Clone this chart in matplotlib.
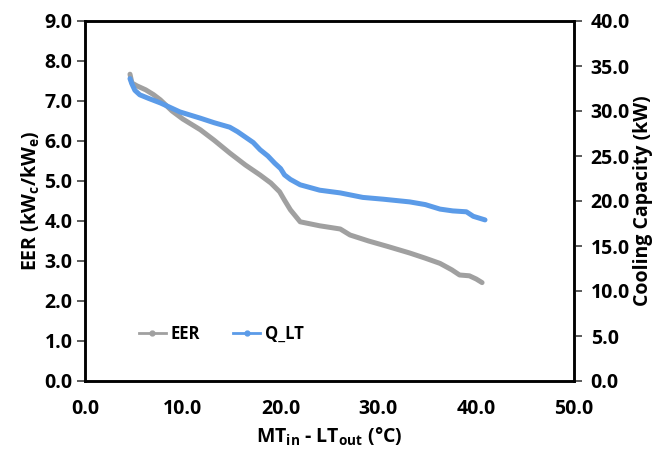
import matplotlib
matplotlib.use("Agg")
import matplotlib.pyplot as plt
from matplotlib.lines import Line2D
from matplotlib.ticker import FixedLocator, FormatStrFormatter

plt.rcParams['font.family'] = ['Open Sans', 'DejaVu Sans']
plt.rcParams['font.weight'] = 'bold'
plt.rcParams['mathtext.fontset'] = 'custom'
plt.rcParams['mathtext.rm'] = 'Open Sans:bold'
plt.rcParams['mathtext.it'] = 'Open Sans:bold'
plt.rcParams['mathtext.bf'] = 'Open Sans:bold'

# Temperature lift MT_in - LT_out (°C) and measured EER
eer_dt = [4.6, 4.8, 5.3, 6.2, 7.0, 7.7, 8.9, 10.0, 11.8, 13.2, 14.8, 16.4, 17.9, 19.0,
          19.9, 20.4, 21.0, 22.0, 24.0, 26.1, 27.1, 29.0, 31.0, 33.2, 34.8, 36.3, 37.5,
          38.3, 39.3, 40.0, 40.6]
eer = [7.67, 7.45, 7.38, 7.28, 7.16, 7.03, 6.75, 6.55, 6.28, 6.02, 5.70, 5.40, 5.15, 4.95,
       4.73, 4.52, 4.28, 3.98, 3.88, 3.80, 3.65, 3.50, 3.36, 3.20, 3.07, 2.94, 2.78,
       2.65, 2.63, 2.55, 2.46]

# Temperature lift and low-temperature cooling capacity Q_LT (kW)
q_dt = [4.6, 4.8, 5.1, 5.6, 6.5, 7.7, 9.7, 11.8, 13.2, 14.8, 15.6, 16.4, 17.2, 17.9,
        18.7, 19.4, 20.0, 20.4, 21.0, 22.0, 24.0, 26.1, 28.4, 30.5, 33.2, 34.8, 36.3,
        37.6, 39.0, 39.7, 40.9]
q_lt = [33.6, 33.0, 32.3, 31.8, 31.4, 30.9, 29.9, 29.2, 28.7, 28.2, 27.7, 27.1, 26.5, 25.7,
        25.0, 24.2, 23.6, 22.9, 22.4, 21.8, 21.2, 20.9, 20.4, 20.2, 19.9, 19.6, 19.1,
        18.9, 18.8, 18.3, 17.9]

gray = '#A0A0A0'
blue = '#5B9BE8'

fig = plt.figure(figsize=(6.69, 4.55), dpi=100)
ax = fig.add_axes([85 / 669, 1 - 381 / 455, (574 - 85) / 669, (381 - 21) / 455])
ax2 = ax.twinx()

ax.plot(eer_dt, eer, color=gray, lw=3.6, solid_capstyle='round', solid_joinstyle='round')
ax2.plot(q_dt, q_lt, color=blue, lw=3.6, solid_capstyle='round', solid_joinstyle='round')

ax.set_xlim(0, 50)
ax.set_ylim(0, 9)
ax2.set_ylim(0, 40)
ax.xaxis.set_major_locator(FixedLocator([0, 10, 20, 30, 40, 50]))
ax.yaxis.set_major_locator(FixedLocator(list(range(0, 10))))
ax2.yaxis.set_major_locator(FixedLocator(list(range(0, 45, 5))))
for a in (ax, ax2):
    a.xaxis.set_major_formatter(FormatStrFormatter('%.1f'))
    a.yaxis.set_major_formatter(FormatStrFormatter('%.1f'))

fs = 14
ax.tick_params(axis='x', length=0, pad=13, labelsize=fs, colors='black')
ax.tick_params(axis='y', direction='out', length=6, width=1.2, pad=3, labelsize=fs,
               color='#404040')
ax2.tick_params(axis='y', direction='out', length=6, width=1.2, pad=6, labelsize=fs,
                color='#404040')
for lbl in ax.get_xticklabels() + ax.get_yticklabels() + ax2.get_yticklabels():
    lbl.set_fontweight('bold')

for a in (ax, ax2):
    for s in a.spines.values():
        s.set_linewidth(1.8)
        s.set_color('black')

ax.set_xlabel(r'MT$_{\rm in}$ - LT$_{\rm out}$ (°C)', fontsize=fs, fontweight='bold',
              labelpad=5)
ax.set_ylabel(r'EER (kW$_{\rm c}$/kW$_{\rm e}$)', fontsize=fs, fontweight='bold',
              labelpad=2)
ax2.set_ylabel('Cooling Capacity (kW)', fontsize=fs, fontweight='bold', labelpad=2)

handles = [Line2D([], [], color=gray, lw=2, marker='o', ms=3.5),
           Line2D([], [], color=blue, lw=2, marker='o', ms=3.5)]
ax.legend(handles, ['EER', 'Q_LT'], loc='center left', bbox_to_anchor=(0.08, 0.13),
          ncol=2, frameon=False, handlelength=1.6, handletextpad=0.3,
          columnspacing=2.0, prop={'weight': 'bold', 'size': 12})

fig.savefig('out.png', dpi=100)
